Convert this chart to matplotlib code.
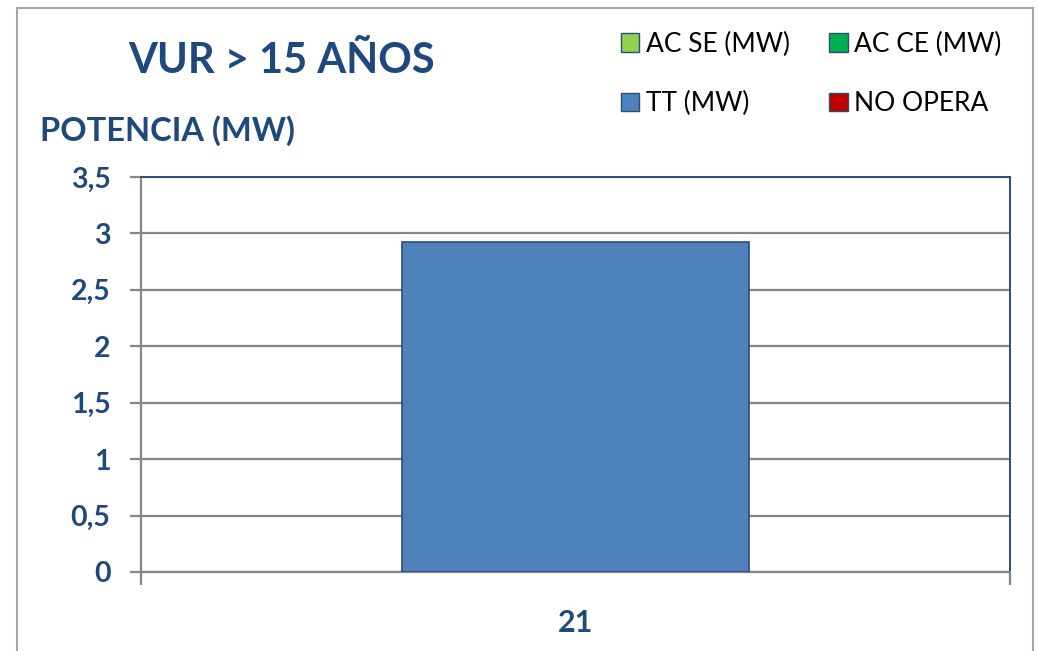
import matplotlib
matplotlib.use("Agg")
import matplotlib.pyplot as plt
from matplotlib.patches import Patch, Rectangle

# data
categories = ["21"]
tt_mw = [2.92]
y_ticks = [0, 0.5, 1, 1.5, 2, 2.5, 3, 3.5]
y_tick_labels = ["0", "0,5", "1", "1,5", "2", "2,5", "3", "3,5"]
legend_labels = ["AC SE (MW)", "AC CE (MW)", "TT (MW)", "NO OPERA"]
legend_colors = ["#92D050", "#00B050", "#4F81BD", "#C00000"]

navy = "#1F497D"
grid_gray = "#868686"
plt.rcParams["font.family"] = ["Lato", "DejaVu Sans"]

fig = plt.figure(figsize=(10.38, 6.51), dpi=100)

# outer chart frame
fig.patches.append(Rectangle((17 / 1038, -0.05), (1033 - 17) / 1038, 1.05 - 8 / 651,
                             transform=fig.transFigure, fill=False,
                             edgecolor="#A6A6A6", linewidth=1.5))

ax = fig.add_axes([141 / 1038, 1 - 572 / 651, 869 / 1038, 395 / 651])

x = list(range(len(categories)))
ax.bar(x, tt_mw, width=0.4, color="#4F81BD", edgecolor="#2C4D75",
       linewidth=1.2, zorder=3)

ax.set_xlim(-0.5, len(categories) - 0.5)
ax.set_ylim(0, 3.5)
ax.set_yticks(y_ticks)
ax.set_yticklabels(y_tick_labels)
ax.yaxis.grid(True, color=grid_gray, linewidth=1.6, zorder=0)

# category boundaries as major ticks, labels on minor ticks
ax.set_xticks([i - 0.5 for i in range(len(categories) + 1)])
ax.set_xticklabels([])
ax.set_xticks(x, minor=True)
ax.set_xticklabels(categories, minor=True)
ax.tick_params(axis="x", which="major", length=9, width=1.6, color=grid_gray, direction="out")
ax.tick_params(axis="x", which="minor", length=0, pad=27, labelsize=22, labelcolor=navy)
ax.tick_params(axis="y", length=8, width=1.6, color=grid_gray, direction="out",
               pad=14, labelsize=20.5, labelcolor=navy)
for lab in ax.get_yticklabels() + ax.get_xticklabels(minor=True):
    lab.set_fontweight("bold")

for side in ["left", "bottom"]:
    ax.spines[side].set_color(grid_gray)
    ax.spines[side].set_linewidth(1.6)
for side in ["top", "right"]:
    ax.spines[side].set_color("#2C4D75")
    ax.spines[side].set_linewidth(1.4)

fig.text(282 / 1038, 1 - 61 / 651, "VUR > 15 AÑOS", ha="center", va="center",
         fontsize=30, fontweight="bold", color=navy)
fig.text(40 / 1038, 1 - 131 / 651, "POTENCIA (MW)", ha="left", va="center",
         fontsize=23.5, fontweight="bold", color=navy)

handles = [Patch(facecolor=c, edgecolor="#2C4D75", linewidth=1) for c in legend_colors]
# order so that ncol=2 fills rows: AC SE, AC CE / TT, NO OPERA
order = [0, 2, 1, 3]
fig.legend([handles[i] for i in order], [legend_labels[i] for i in order],
           ncol=2, loc="upper left", bbox_to_anchor=(597 / 1038, 1 - 8 / 651),
           frameon=False, fontsize=19, handlelength=0.7, handleheight=0.7,
           handletextpad=0.25, labelspacing=1.3, columnspacing=1.5)

fig.savefig("out.png", dpi=100)
